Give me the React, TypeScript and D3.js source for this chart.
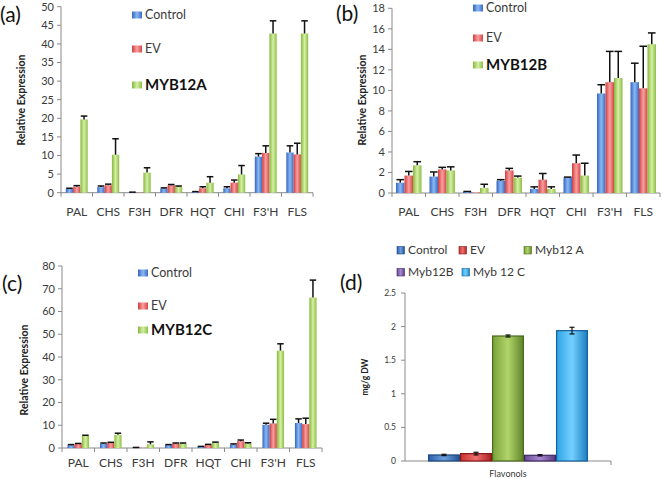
import React from "react";
import * as d3 from "d3";

const genes = ["PAL", "CHS", "F3H", "DFR", "HQT", "CHI", "F3'H", "FLS"];
const geneSeriesNames = ["Control", "EV"];

const aControl = [1.0, 1.5, 0.1, 1.1, 0.2, 1.2, 9.7, 10.8];
const aControlErr = [0.2, 0.3, 0.05, 0.2, 0.1, 0.4, 0.8, 1.8];
const aEV = [1.6, 2.0, 0.05, 2.0, 1.2, 2.7, 10.7, 10.3];
const aEVErr = [0.3, 0.3, 0, 0.2, 0.4, 0.7, 1.9, 3.0];
const aMyb = [19.7, 10.2, 5.4, 1.6, 2.7, 4.9, 42.8, 42.8];
const aMybErr = [0.9, 4.3, 1.3, 0.2, 1.6, 2.4, 3.4, 3.4];

const bControl = [1.0, 1.6, 0.13, 1.2, 0.4, 1.5, 9.7, 10.8];
const bControlErr = [0.3, 0.45, 0.02, 0.1, 0.2, 0.05, 0.85, 1.85];
const bEV = [1.7, 2.3, 0.05, 2.2, 1.3, 2.9, 10.8, 10.2];
const bEVErr = [0.4, 0.2, 0, 0.2, 0.6, 0.8, 3.0, 4.1];
const bMyb = [2.7, 2.2, 0.5, 1.5, 0.4, 1.7, 11.2, 14.5];
const bMybErr = [0.35, 0.35, 0.35, 0.15, 0.2, 1.2, 2.6, 1.1];

const cControl = [1.2, 1.9, 0.2, 1.3, 0.6, 1.5, 10.2, 11.0];
const cControlErr = [0.3, 0.3, 0.05, 0.2, 0.1, 0.3, 0.7, 1.8];
const cEV = [1.8, 2.2, 0.1, 2.0, 1.4, 3.0, 10.8, 10.5];
const cEVErr = [0.2, 0.3, 0, 0.2, 0.2, 0.5, 1.8, 2.6];
const cMyb = [5.3, 5.8, 1.6, 2.0, 2.3, 2.0, 42.8, 66.1];
const cMybErr = [0.3, 0.7, 1.1, 0.2, 0.3, 0.3, 3.0, 7.7];

const dSeries = ["Control", "EV", "Myb12 A", "Myb12B", "Myb 12 C"];
const dValues = [0.09, 0.11, 1.86, 0.085, 1.94];
const dErr = [0.01, 0.02, 0.015, 0.01, 0.05];
const dCategory = "Flavonols";

const FONT = "Lato, 'Open Sans', 'DejaVu Sans', sans-serif";
const AXIS = "#8a8a8a";
const TXT = "#3a3a3a";

const gradStops: Record<string, string[]> = {
  gBlue: ["#3566c0", "#8ab8f2", "#3a6cc6"],
  gRed: ["#d43c3c", "#f6a0a0", "#d84444"],
  gGreen: ["#86b83c", "#d6efa6", "#8cbf44"],
  dBlue: ["#2c5fa8", "#6d9fe0", "#24508f"],
  dRed: ["#c83030", "#f07070", "#a82020"],
  dGreen: ["#7aa23a", "#b2d46a", "#5e8428"],
  dPurple: ["#6a4a98", "#a98ad0", "#553a80"],
  dCyan: ["#2fa4e6", "#74d0ff", "#1c7fc0"],
};
const dStroke = ["#1e4a80", "#8a1818", "#4a6a1e", "#3f2a66", "#15629a"];
const dGrads = ["dBlue", "dRed", "dGreen", "dPurple", "dCyan"];
const geneGrads = ["gBlue", "gRed", "gGreen"];

type PanelProps = {
  left: number; right: number; top: number; bottom: number;
  max: number; step: number; barW: number;
  values: number[][]; errs: number[][]; mybName: string;
  tag: string; tagX: number; tagY: number;
  yLabX: number; yLabY: number;
  legX: number; legYs: number[]; xLabY: number;
};

function GenePanel(p: PanelProps) {
  const x = d3.scaleBand<string>().domain(genes).range([p.left, p.right]);
  const y = d3.scaleLinear().domain([0, p.max]).range([p.bottom, p.top]);
  const ticks = d3.range(0, p.max + p.step / 2, p.step);
  const bw = x.bandwidth();
  const names = [...geneSeriesNames, p.mybName];
  return (
    <g fontFamily={FONT}>
      <text x={p.tagX} y={p.tagY} fontSize={21} fill="#111">{p.tag}</text>
      <line x1={p.left} x2={p.left} y1={p.top} y2={p.bottom} stroke={AXIS} />
      <line x1={p.left} x2={p.right} y1={p.bottom} y2={p.bottom} stroke={AXIS} />
      {ticks.map((t) => (
        <g key={t}>
          <line x1={p.left - 4} x2={p.left} y1={y(t)} y2={y(t)} stroke={AXIS} />
          <text x={p.left - 7} y={y(t) + 3.8} fontSize={11} textAnchor="end" fill={TXT}>{t}</text>
        </g>
      ))}
      {d3.range(genes.length + 1).map((i) => (
        <line key={i} x1={p.left + i * bw} x2={p.left + i * bw} y1={p.bottom} y2={p.bottom + 4} stroke={AXIS} />
      ))}
      {genes.map((g, gi) => (
        <g key={g}>
          {p.values.map((vals, si) => {
            const bx = (x(g) as number) + bw / 2 - 1.5 * p.barW + si * p.barW;
            const v = vals[gi];
            const e = p.errs[si][gi];
            const cx = bx + p.barW / 2;
            return (
              <g key={si}>
                <rect x={bx} y={y(v)} width={p.barW} height={p.bottom - y(v)} fill={`url(#${geneGrads[si]})`} />
                {e > 0 && (
                  <g stroke="#111" strokeWidth={1.5}>
                    <line x1={cx} x2={cx} y1={y(v)} y2={y(v + e)} />
                    <line x1={cx - p.barW * 0.45} x2={cx + p.barW * 0.45} y1={y(v + e)} y2={y(v + e)} />
                  </g>
                )}
              </g>
            );
          })}
          <text x={(x(g) as number) + bw / 2} y={p.xLabY} fontSize={12} textAnchor="middle" fill={TXT}>{g}</text>
        </g>
      ))}
      <text transform={`translate(${p.yLabX},${p.yLabY}) rotate(-90)`} fontSize={10.5} fontWeight="bold" textAnchor="middle" fill="#222">Relative Expression</text>
      {names.map((n, i) => (
        <g key={n}>
          <rect x={p.legX} y={p.legYs[i] - 3.5} width={10} height={7} fill={`url(#${geneGrads[i]})`} />
          <text x={p.legX + 13} y={p.legYs[i] + (i === 2 ? 5.3 : 4.4)} fontSize={i === 2 ? 15 : 12.5}
            fontWeight={i === 2 ? "bold" : "normal"} fill={i === 2 ? "#111" : TXT}>{n}</text>
        </g>
      ))}
    </g>
  );
}

function FlavonolPanel() {
  const left = 405, right = 611, top = 293, bottom = 461;
  const y = d3.scaleLinear().domain([0, 2.5]).range([bottom, top]);
  const ticks = d3.range(0, 2.5 + 0.25, 0.5);
  const x = d3.scaleBand<string>().domain([dCategory]).range([left, right]);
  const inner = d3.scaleBand<string>().domain(dSeries).range([428, 588]);
  const legPos = [[397, 250], [459, 250], [524, 250], [397, 272], [462, 272]];
  return (
    <g fontFamily={FONT}>
      <text x={340} y={290} fontSize={21} fill="#111">(d)</text>
      {dSeries.map((s, i) => (
        <g key={s}>
          <rect x={legPos[i][0]} y={legPos[i][1] - 3.5} width={7.5} height={7.5} fill={`url(#${dGrads[i]})`} stroke={dStroke[i]} strokeWidth={0.6} />
          <text x={legPos[i][0] + 11} y={legPos[i][1] + 4.2} fontSize={12} fill={TXT}>{s}</text>
        </g>
      ))}
      <line x1={left} x2={left} y1={top} y2={bottom} stroke={AXIS} />
      <line x1={left} x2={right} y1={bottom} y2={bottom} stroke={AXIS} />
      <line x1={right} x2={right} y1={bottom} y2={bottom + 4} stroke={AXIS} />
      {ticks.map((t) => (
        <g key={t}>
          <line x1={left - 4} x2={left} y1={y(t)} y2={y(t)} stroke={AXIS} />
          <text x={left - 9} y={y(t) + 3} fontSize={8.5} textAnchor="end" fill={TXT}>{t}</text>
        </g>
      ))}
      {dSeries.map((s, i) => {
        const bx = inner(s) as number;
        const w = inner.bandwidth();
        const v = dValues[i];
        const e = dErr[i];
        const cx = bx + w / 2;
        return (
          <g key={s}>
            <rect x={bx + 0.6} y={y(v)} width={w - 1.2} height={bottom - y(v)} fill={`url(#${dGrads[i]})`} stroke={dStroke[i]} strokeWidth={1.2} />
            <g stroke="#111" strokeWidth={1.2}>
              <line x1={cx} x2={cx} y1={y(v - e)} y2={y(v + e)} />
              <line x1={cx - 2.5} x2={cx + 2.5} y1={y(v + e)} y2={y(v + e)} />
              <line x1={cx - 2.5} x2={cx + 2.5} y1={y(v - e)} y2={y(v - e)} />
            </g>
          </g>
        );
      })}
      <text x={(x(dCategory) as number) + x.bandwidth() / 2} y={477} fontSize={9} textAnchor="middle" fill={TXT}>{dCategory}</text>
      <text transform="translate(368,377) rotate(-90)" fontSize={8.5} fontWeight="bold" textAnchor="middle" fill="#222">mg/g DW</text>
    </g>
  );
}

export default function App() {
  return (
    <div style={{ position: "absolute", left: 0, top: 0, width: 665, height: 479, background: "#fff" }}>
      <svg width={665} height={479} style={{ display: "block" }}>
        <defs>
          {Object.entries(gradStops).map(([id, c]) => (
            <linearGradient key={id} id={id} x1="0" x2="1" y1="0" y2="0">
              <stop offset="0%" stopColor={c[0]} />
              <stop offset="50%" stopColor={c[1]} />
              <stop offset="100%" stopColor={c[2]} />
            </linearGradient>
          ))}
        </defs>
        <rect width={665} height={479} fill="#fff" />
        <GenePanel left={61} right={313} top={6.7} bottom={192.7} max={50} step={5} barW={7.3}
          values={[aControl, aEV, aMyb]} errs={[aControlErr, aEVErr, aMybErr]} mybName="MYB12A"
          tag="(a)" tagX={0} tagY={22} yLabX={25} yLabY={100}
          legX={132} legYs={[15, 49, 85]} xLabY={215.5} />
        <GenePanel left={392} right={660} top={8.3} bottom={193} max={18} step={2} barW={8.5}
          values={[bControl, bEV, bMyb]} errs={[bControlErr, bEVErr, bMybErr]} mybName="MYB12B"
          tag="(b)" tagX={336} tagY={21} yLabX={366} yLabY={100}
          legX={473} legYs={[8, 38, 65]} xLabY={215.5} />
        <GenePanel left={62} right={322} top={266} bottom={448} max={80} step={10} barW={7.2}
          values={[cControl, cEV, cMyb]} errs={[cControlErr, cEVErr, cMybErr]} mybName="MYB12C"
          tag="(c)" tagX={2} tagY={291} yLabX={28} yLabY={370}
          legX={138} legYs={[273, 306, 330]} xLabY={466.5} />
        <FlavonolPanel />
      </svg>
    </div>
  );
}
